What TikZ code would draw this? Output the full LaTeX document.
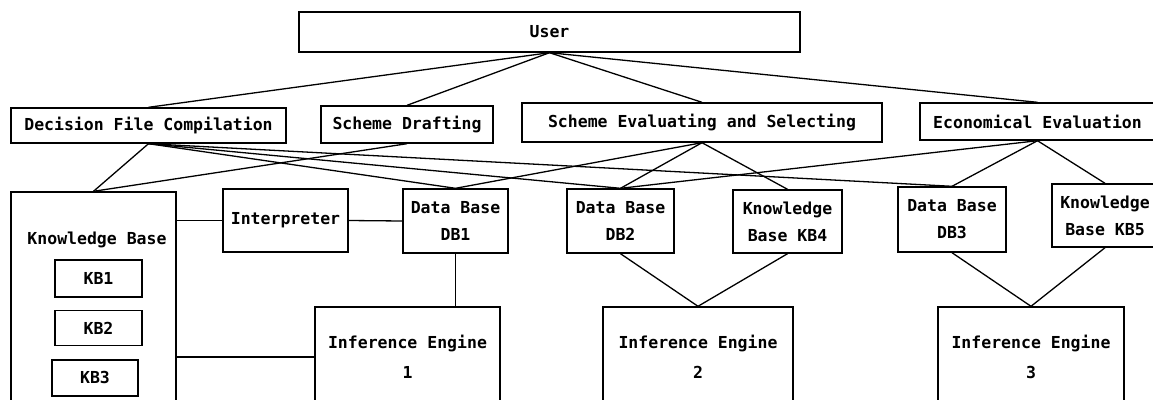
\documentclass[tikz,border=0pt]{standalone}
\usepackage{fontspec}
\setmonofont{DejaVu Sans Mono}
\usetikzlibrary{positioning}

\begin{document}
\begin{tikzpicture}[
    x=1pt, y=-1pt,
    every node/.style={inner sep=0pt, align=center, font=\ttfamily\bfseries\fontsize{16.5}{27}\selectfont},
    box/.style={draw, line width=1.4pt},
    link/.style={line width=1.3pt}
]
\useasboundingbox (0,0) rectangle (1153,399);
\clip (0,0) rectangle (1153,399);

% Top
\node[box, minimum width=501, minimum height=40] (user) at (549.5,32) {User};

% Task row
\node[box, minimum width=275, minimum height=35] (dfc) at (148.5,125.5) {Decision File Compilation};
\node[box, minimum width=172, minimum height=37] (sd) at (407,124.5) {Scheme Drafting};
\node[box, minimum width=360, minimum height=39] (ses) at (702,122.5) {Scheme Evaluating and Selecting};
\node[box, minimum width=235, minimum height=37] (ee) at (1037.5,121.5) {Economical Evaluation};

% Knowledge base with its parts
\node[box, minimum width=165, minimum height=218] (kb) at (93.5,301) {};
\node (kblabel) at (97,240) {Knowledge Base};
\node[box, minimum width=87, minimum height=37] (kb1) at (98.5,278.5) {KB1};
\node[box, minimum width=87, minimum height=35, below=12pt of kb1] (kb2) {KB2};
\node[box, minimum width=86, minimum height=36, below=13pt of kb2, xshift=-3.5pt] (kb3) {KB3};

% Middle row
\node[box, minimum width=125, minimum height=63] (interp) at (285.5,220.5) {Interpreter};
\node[box, minimum width=105, minimum height=64] (db1) at (455.5,221) {Data Base\\DB1};
\node[box, minimum width=107, minimum height=64] (db2) at (620.5,221) {Data Base\\DB2};
\node[box, minimum width=109, minimum height=63] (kb4) at (787.5,221.5) {Knowledge\\Base KB4};
\node[box, minimum width=108, minimum height=65] (db3) at (952,219.5) {Data Base\\DB3};
\node[box, minimum width=106, minimum height=63] (kb5) at (1105,215.5) {Knowledge\\Base KB5};

% Engines
\node[box, minimum width=185, minimum height=100] (ie1) at (407.5,357) {Inference Engine\\[3pt]1};
\node[box, minimum width=190, minimum height=100] (ie2) at (698,357) {Inference Engine\\[3pt]2};
\node[box, minimum width=186, minimum height=100] (ie3) at (1031,357) {Inference Engine\\[3pt]3};

% User to tasks
\foreach \t in {dfc, sd, ses, ee}
  \draw[link] (user.south) -- (\t.north);

% Tasks to stores
\draw[link] (dfc.south) -- (kb.north);
\draw[link] (sd.south) -- (kb.north);
\foreach \s in {db1, db2, db3}
  \draw[link] (dfc.south) -- (\s.north);
\foreach \s in {db1, db2, kb4}
  \draw[link] (ses.south) -- (\s.north);
\foreach \s in {db2, db3, kb5}
  \draw[link] (ee.south) -- (\s.north);

% Side links
\draw[link] (interp.west -| kb.east) -- (interp.west);
\draw[link] (interp.east) -- (db1.west);
\draw[link] (ie1.west -| kb.east) -- (ie1.west);

% Stores to engines
\draw[link] (db1.south) -- (db1.south |- ie1.north);
\draw[link] (db2.south) -- (ie2.north);
\draw[link] (kb4.south) -- (ie2.north);
\draw[link] (db3.south) -- (ie3.north);
\draw[link] (kb5.south) -- (ie3.north);

\end{tikzpicture}
\end{document}
